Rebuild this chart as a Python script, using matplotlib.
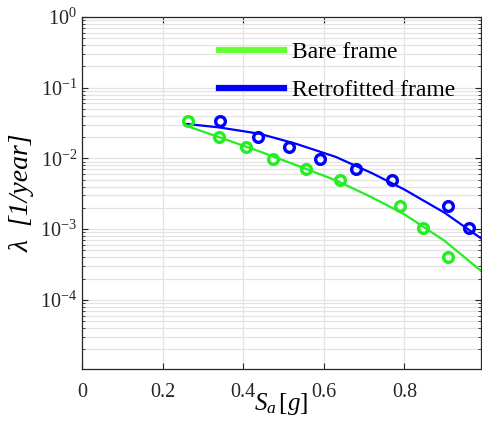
import numpy as np
import matplotlib.pyplot as plt
from matplotlib.lines import Line2D
from matplotlib.ticker import LogLocator, FixedLocator, NullFormatter

plt.rcParams['font.family'] = ['Liberation Serif', 'DejaVu Serif']
plt.rcParams['mathtext.fontset'] = 'custom'
plt.rcParams['mathtext.rm'] = 'Liberation Serif'
plt.rcParams['mathtext.it'] = 'Liberation Serif:italic'

# observed rates
bare_sa = [0.263, 0.340, 0.407, 0.475, 0.557, 0.641, 0.788, 0.847, 0.909]
bare_rate = [0.0335, 0.020, 0.0143, 0.0097, 0.0072, 0.0049, 0.0021, 0.00105, 0.00041]
retro_sa = [0.343, 0.437, 0.514, 0.591, 0.681, 0.770, 0.909, 0.961]
retro_rate = [0.0335, 0.020, 0.0143, 0.0097, 0.0072, 0.0049, 0.0021, 0.00105]

# fitted hazard curves
fit_sa = [0.255, 0.34, 0.44, 0.53, 0.63, 0.72, 0.80, 0.90, 0.99]
bare_fit = [0.0295, 0.020, 0.0126, 0.0081, 0.0049, 0.0028, 0.00162, 0.00068, 0.000257]
retro_fit = [0.031, 0.0275, 0.0224, 0.0162, 0.0105, 0.00617, 0.00363, 0.0017, 0.00074]

green = '#22ee22'
blue = '#0000ff'

fig = plt.figure(figsize=(4.82, 4.24), dpi=100)
ax = fig.add_axes([0.170, 0.1297, 0.828, 0.830])

ax.plot(fit_sa, bare_fit, color=green, lw=1.6)
ax.plot(fit_sa, retro_fit, color=blue, lw=1.6)
ax.plot(bare_sa, bare_rate, 'o', mfc='none', mec=green, ms=7, mew=2.4)
ax.plot(retro_sa, retro_rate, 'o', mfc='none', mec=blue, ms=7, mew=2.4)

ax.set_yscale('log')
ax.set_xlim(0, 0.99)
ax.set_ylim(1.05e-5, 1)
ax.set_xticks([0, 0.2, 0.4, 0.6, 0.8])
ax.set_xticklabels(['0', '0.2', '0.4', '0.6', '0.8'])
ax.yaxis.set_major_locator(FixedLocator([1e-4, 1e-3, 1e-2, 1e-1, 1]))
ax.yaxis.set_minor_locator(LogLocator(base=10, subs=np.arange(2, 10)))
ax.yaxis.set_minor_formatter(NullFormatter())

ax.grid(True, which='major', axis='x', color='#e3e3e3', lw=0.9)
ax.grid(True, which='both', axis='y', color='#e3e3e3', lw=0.9)
ax.set_axisbelow(True)

ax.tick_params(which='both', direction='in', top=True, right=True,
               labelsize=14.5, colors='#262626', labelcolor='#262626')
ax.tick_params(which='major', length=4, width=0.8)
ax.tick_params(which='minor', length=2, width=0.6)
ax.tick_params(axis='x', pad=10)
for s in ax.spines.values():
    s.set_color('#262626')
    s.set_linewidth(0.9)

ax.set_xlabel(r'$S_a\,\mathit{[g]}$', fontsize=18, labelpad=-8)
ax.set_ylabel('λ  [1/year]', fontsize=20, fontstyle='italic', labelpad=4)

handles = [Line2D([], [], color='#66ff33', lw=4.5),
           Line2D([], [], color=blue, lw=4.5)]
ax.legend(handles, ['Bare frame', 'Retrofitted frame'], loc='upper left',
          bbox_to_anchor=(0.29, 0.99), frameon=False, fontsize=17,
          handlelength=2.75, handletextpad=0.35, labelspacing=0.7)

fig.savefig('out.png', dpi=100)
